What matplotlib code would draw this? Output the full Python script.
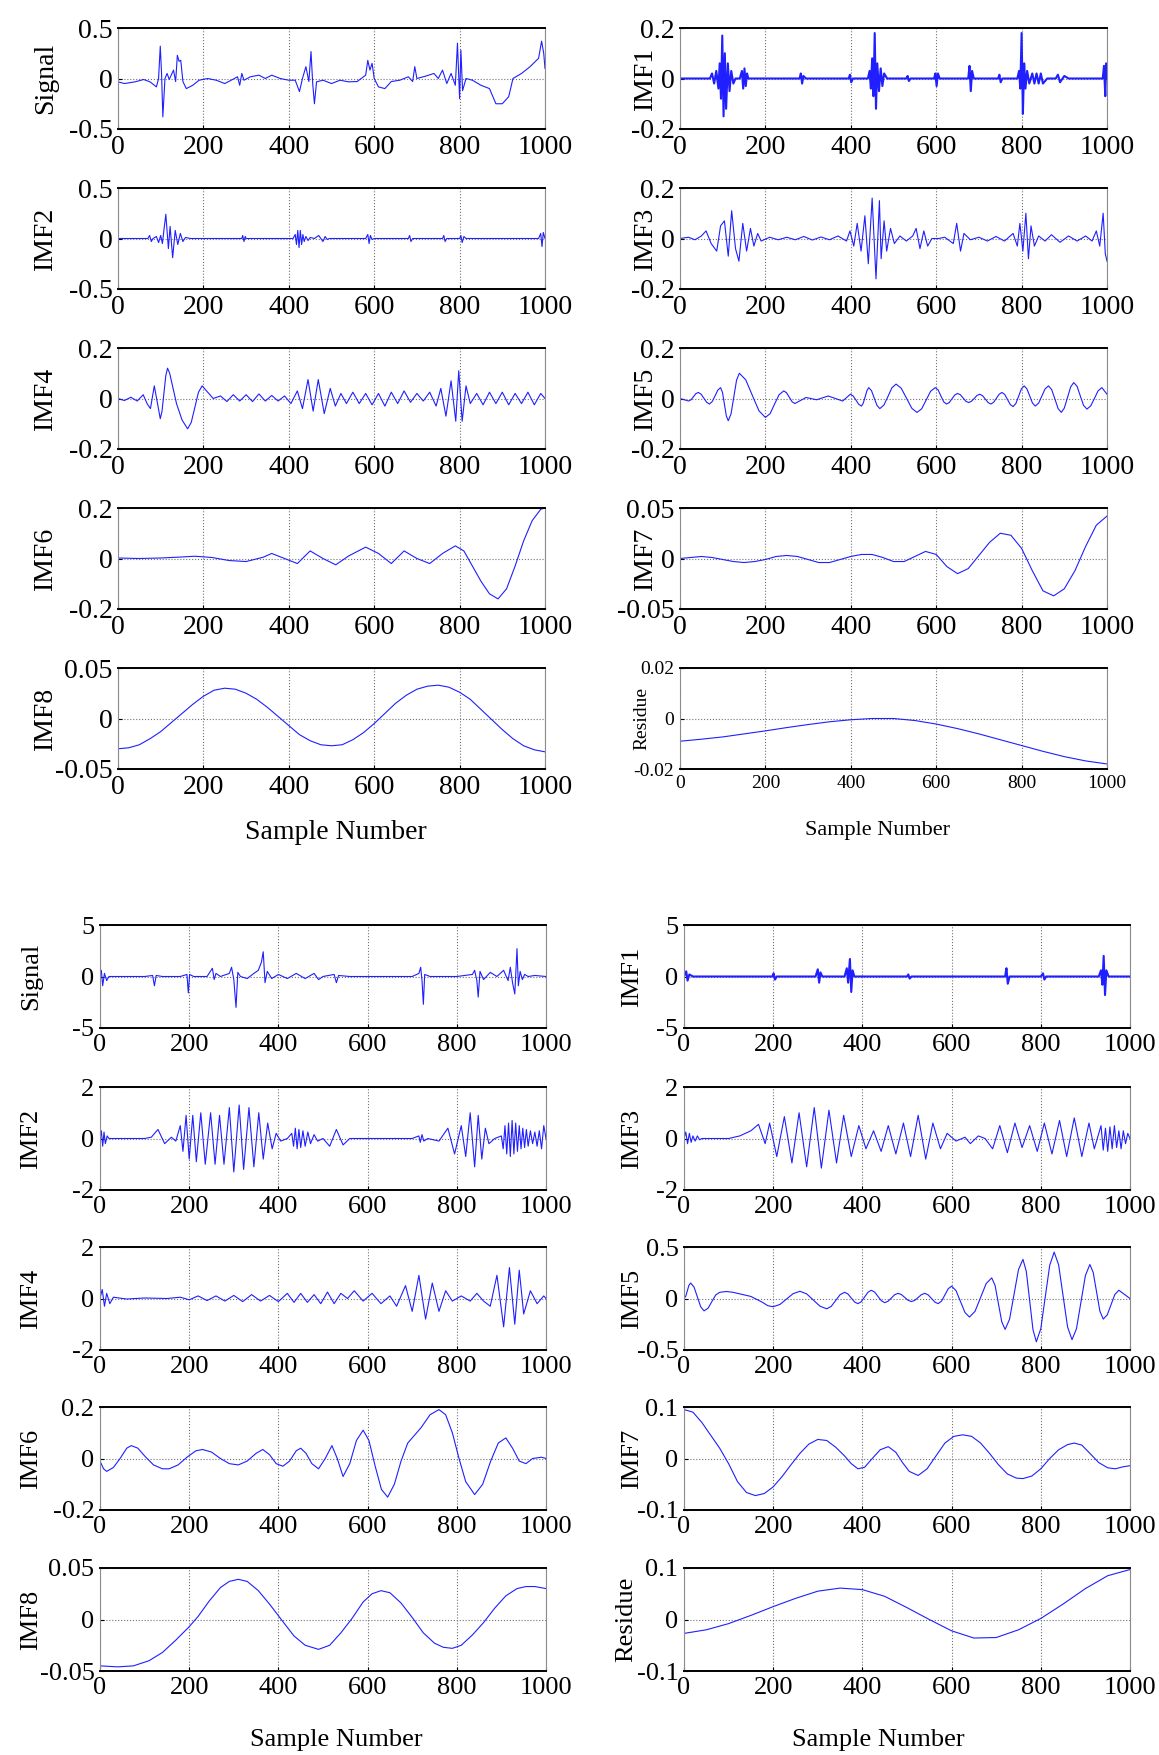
import matplotlib.pyplot as plt

plt.rcParams['font.family'] = ['Liberation Serif', 'DejaVu Serif']
plt.rcParams['axes.unicode_minus'] = False

# ---------------- upper record: (sample, value) ----------------
signal_a = [(0, -0.033), (15, -0.05), (40, -0.033), (60, -0.01), (75, -0.033), (90, -0.083), (95, 0.0),
            (99, 0.32), (102, 0.05), (105, -0.38), (110, 0.0), (115, 0.05), (120, -0.01), (130, 0.083),
            (135, -0.03), (139, 0.23), (143, 0.17), (147, 0.18), (152, -0.03), (160, -0.1), (175, -0.067),
            (190, -0.017), (210, 0.0), (230, -0.017), (250, -0.05), (265, -0.017), (280, 0.017), (285, -0.067),
            (290, 0.05), (295, -0.017), (310, 0.017), (330, 0.033), (345, 0.0), (360, 0.033), (380, 0.0),
            (400, -0.017), (415, -0.017), (425, -0.13), (432, 0.0), (440, 0.117), (447, -0.03), (452, 0.267),
            (456, -0.05), (460, -0.25), (465, -0.033), (480, -0.017), (500, -0.05), (520, -0.017), (540, -0.033),
            (560, -0.03), (580, 0.033), (585, 0.18), (590, 0.083), (595, 0.15), (600, 0.0), (610, -0.083),
            (625, -0.1), (640, -0.03), (660, -0.017), (680, 0.017), (690, -0.03), (695, 0.117), (700, 0.0),
            (720, 0.023), (740, 0.05), (750, 0.0), (760, 0.083), (770, -0.05), (780, 0.05), (790, -0.067),
            (795, 0.35), (800, -0.2), (803, 0.28), (807, -0.12), (815, 0.0), (830, -0.017), (850, -0.067),
            (870, -0.1), (885, -0.25), (900, -0.25), (915, -0.18), (925, 0.0), (945, 0.05), (965, 0.117),
            (985, 0.2), (992, 0.37), (997, 0.25), (1000, 0.1)]

imf1_a = [(0, 0), (70, 0), (75, 0.02), (80, -0.02), (85, 0.03), (90, -0.04), (93, 0.06), (96, -0.08),
          (99, 0.17), (102, -0.15), (105, 0.1), (108, -0.12), (112, 0.06), (116, -0.05), (120, 0.03),
          (125, -0.02), (130, 0.0), (140, 0), (145, 0.03), (148, -0.04), (151, 0.04), (154, -0.03),
          (157, 0.02), (160, 0.0), (280, 0), (283, 0.02), (286, -0.02), (289, 0.01), (295, 0), (395, 0),
          (398, 0.015), (401, -0.015), (405, 0), (440, 0), (444, 0.03), (447, -0.04), (450, 0.08),
          (453, -0.07), (456, 0.18), (459, -0.12), (462, 0.06), (466, -0.05), (470, 0.04), (474, -0.03),
          (478, 0.02), (485, 0), (530, 0), (533, 0.01), (536, -0.01), (540, 0), (595, 0), (598, 0.02),
          (601, -0.03), (604, 0.02), (608, 0), (675, 0), (678, 0.05), (681, -0.05), (684, 0.03), (688, 0),
          (745, 0), (748, 0.015), (751, -0.015), (755, 0), (790, 0), (794, 0.03), (797, -0.04), (800, 0.18),
          (803, -0.14), (806, 0.06), (809, -0.04), (813, 0.03), (818, -0.02), (825, 0.02), (830, -0.02),
          (835, 0.02), (840, -0.02), (845, 0.02), (850, -0.02), (860, 0), (880, 0), (885, 0.015),
          (890, -0.015), (900, 0.01), (910, 0), (990, 0), (993, 0.05), (996, -0.07), (998, 0.06), (1000, 0.0)]

imf2_a = [(0, 0), (70, 0), (74, 0.03), (78, -0.03), (82, 0), (90, 0.02), (95, -0.04), (100, 0.03),
          (104, -0.05), (108, 0.1), (112, 0.24), (118, -0.1), (122, 0.12), (128, -0.19), (134, 0.08),
          (140, -0.06), (146, 0.05), (152, -0.03), (158, 0.01), (170, 0), (290, 0), (292, 0.03),
          (295, -0.03), (298, 0.02), (300, 0), (410, 0), (415, 0.04), (418, -0.06), (421, 0.08),
          (424, -0.09), (427, 0.08), (430, -0.06), (433, 0.04), (436, -0.03), (440, 0.02), (445, -0.02),
          (450, 0.01), (460, 0.0), (470, 0.03), (480, -0.03), (485, 0.02), (490, -0.01), (495, 0.0),
          (580, 0), (585, 0.04), (588, -0.05), (591, 0.03), (595, -0.01), (600, 0), (680, 0), (683, 0.03),
          (686, -0.03), (690, 0), (760, 0), (763, 0.03), (766, -0.03), (770, 0), (800, 0), (803, 0.03),
          (806, -0.04), (810, 0.02), (815, 0), (985, 0), (990, 0.05), (993, -0.08), (996, 0.06), (1000, 0.0)]

imf3_a = [(0, 0.0), (20, 0.005), (35, -0.005), (50, 0.01), (61, 0.03), (73, -0.02), (86, -0.05), (95, 0.05),
          (104, 0.07), (113, -0.07), (121, 0.11), (130, -0.04), (138, -0.09), (147, 0.06), (156, -0.05),
          (165, 0.04), (173, -0.03), (182, 0.02), (190, -0.01), (210, 0.005), (230, -0.005), (250, 0.005),
          (270, -0.005), (290, 0.008), (310, -0.006), (330, 0.006), (350, -0.005), (370, 0.01), (390, -0.01),
          (398, 0.03), (407, -0.03), (415, 0.06), (424, -0.05), (433, 0.09), (441, -0.1), (450, 0.16),
          (459, -0.16), (467, 0.15), (471, -0.08), (478, 0.07), (484, -0.05), (493, 0.04), (502, -0.02),
          (515, 0.01), (530, -0.01), (545, 0.01), (553, 0.04), (562, -0.04), (571, 0.03), (580, -0.03),
          (590, 0.0), (606, 0.0), (620, 0.005), (640, -0.02), (648, 0.06), (657, -0.05), (665, 0.02),
          (680, -0.005), (700, 0.005), (720, -0.01), (740, 0.008), (760, -0.01), (780, 0.02), (790, -0.03),
          (796, 0.06), (803, -0.05), (810, 0.1), (816, -0.08), (822, 0.05), (830, -0.03), (840, 0.01),
          (855, -0.01), (870, 0.015), (890, -0.015), (910, 0.01), (930, -0.01), (950, 0.01), (965, -0.01),
          (975, 0.03), (983, -0.03), (991, 0.1), (996, -0.06), (1000, -0.09)]

imf4_a = [(0, 0.0), (15, -0.008), (30, 0.005), (45, -0.01), (59, 0.015), (68, -0.02), (76, -0.04), (85, 0.05),
          (99, -0.08), (103, -0.051), (107.5, 0.02), (112, 0.091), (116, 0.12), (121, 0.1), (137, -0.02),
          (150, -0.085), (163, -0.12), (171.5, -0.095), (180, -0.035), (188.5, 0.025), (197, 0.05),
          (223, 0.0), (240, 0.01),
          (255, -0.012), (270, 0.015), (285, -0.01), (300, 0.015), (315, -0.012), (330, 0.018), (345, -0.01),
          (360, 0.012), (375, -0.01), (390, 0.01), (405, -0.02), (420, 0.03), (432, -0.04), (445, 0.075),
          (457, -0.05), (469, 0.075), (483, -0.06), (497, 0.04), (509, -0.03), (522, 0.02), (535, -0.02),
          (550, 0.025), (565, -0.02), (580, 0.02), (595, -0.025), (610, 0.02), (625, -0.03), (640, 0.025),
          (655, -0.02), (670, 0.03), (685, -0.015), (700, 0.02), (715, -0.01), (730, 0.025), (745, -0.03),
          (756, 0.04), (768, -0.07), (780, 0.07), (791, -0.09), (798, 0.11), (806, -0.09), (815, 0.05),
          (825, -0.02), (840, 0.02), (855, -0.025), (870, 0.025), (885, -0.02), (900, 0.025), (915, -0.025),
          (930, 0.02), (945, -0.02), (960, 0.025), (975, -0.025), (990, 0.02), (1000, 0.0)]

imf5_a = [(0, 0.0), (20, -0.01), (26, -0.005), (31.5, 0.007), (37, 0.019), (43, 0.024), (49.5, 0.017),
          (56, 0.001), (62.5, -0.015), (69, -0.022), (75.5, -0.012), (82, 0.01), (88.5, 0.033), (95, 0.043),
          (99.5, 0.024), (104, -0.022), (108.5, -0.069), (113, -0.088), (119.5, -0.061), (126, 0.006),
          (132.5, 0.073), (139, 0.1), (154, 0.074), (169.5, 0.012), (185, -0.049), (200, -0.075),
          (211, -0.06), (221.5, -0.022), (232, 0.015), (243, 0.03), (249.5, 0.023), (256, 0.005),
          (262.5, -0.013), (269, -0.02), (295, 0.004), (320, -0.005), (347, 0.01), (381, -0.01), (399, 0.017),
          (405.5, 0.01), (412, -0.006), (418.5, -0.023), (425, -0.03), (429, -0.019), (433.5, 0.006),
          (438, 0.032), (442, 0.043), (448.5, 0.031), (455, 0.001), (461.5, -0.028), (468, -0.04),
          (477.5, -0.026), (487, 0.008), (496.5, 0.043), (506, 0.057), (518, 0.041), (530.5, 0.001),
          (543, -0.039), (555, -0.055), (566, -0.041), (576.5, -0.006), (587, 0.029), (598, 0.043),
          (604.5, 0.034), (611, 0.01), (617.5, -0.013), (624, -0.022), (630.5, -0.016), (637, -0.001),
          (643.5, 0.014), (650, 0.02), (656.5, 0.015), (663, 0.002), (669.5, -0.011), (676, -0.016),
          (682.5, -0.011), (689, 0.0), (695.5, 0.012), (702, 0.017), (708.5, 0.011), (715, -0.002),
          (721.5, -0.016), (728, -0.022), (734.5, -0.015), (741, 0.001), (747.5, 0.017), (754, 0.024),
          (760.5, 0.016), (767, -0.004), (773.5, -0.024), (780, -0.032), (786.5, -0.02), (793, 0.009),
          (799.5, 0.038), (806, 0.05), (812.5, 0.038), (819, 0.01), (825.5, -0.018), (832, -0.03),
          (840, -0.018), (847.5, 0.01), (855, 0.038), (863, 0.05), (870.5, 0.035), (878, -0.002),
          (885.5, -0.04), (893, -0.055), (900, -0.038), (907.5, 0.004), (915, 0.046), (922, 0.063),
          (930, 0.048), (937.5, 0.01), (945, -0.027), (953, -0.042), (962, -0.029), (970.5, 0.0),
          (979, 0.03), (988, 0.043), (1000, 0.017)]

imf6_a = [(0, 0.002), (50, 0.0), (100, 0.002), (150, 0.006), (180, 0.009), (220, 0.004), (260, -0.008),
          (300, -0.012), (340, 0.005), (360, 0.02), (390, 0.0), (420, -0.02), (450, 0.03), (480, 0.0),
          (510, -0.025), (540, 0.01), (580, 0.045), (610, 0.02), (640, -0.02), (670, 0.03), (700, 0.0),
          (730, -0.02), (760, 0.02), (790, 0.05), (810, 0.03), (830, -0.03), (850, -0.09), (870, -0.14),
          (890, -0.16), (910, -0.12), (930, -0.03), (950, 0.07), (970, 0.15), (990, 0.195), (1000, 0.2)]

imf7_a = [(0, 0.0), (25, 0.001), (50, 0.002), (75, 0.001), (100, -0.001), (125, -0.003), (150, -0.004),
          (175, -0.003), (200, -0.001), (225, 0.002), (250, 0.003), (275, 0.002), (300, -0.001),
          (325, -0.004), (350, -0.004), (375, -0.001), (400, 0.002), (425, 0.004), (450, 0.004), (475, 0.001),
          (500, -0.003), (525, -0.003), (550, 0.002), (575, 0.007), (600, 0.004), (625, -0.008),
          (650, -0.015), (675, -0.01), (700, 0.003), (725, 0.016), (750, 0.025), (775, 0.023), (800, 0.01),
          (825, -0.012), (850, -0.032), (875, -0.037), (900, -0.03), (925, -0.012), (950, 0.012),
          (975, 0.033), (1000, 0.042)]

imf8_a = [(0, -0.03), (25, -0.029), (50, -0.026), (75, -0.02), (100, -0.013), (125, -0.004), (150, 0.005),
          (175, 0.014), (200, 0.022), (225, 0.028), (250, 0.03), (275, 0.029), (300, 0.025), (325, 0.019),
          (350, 0.011), (375, 0.002), (400, -0.007), (425, -0.016), (450, -0.022), (475, -0.026),
          (500, -0.027), (525, -0.026), (550, -0.021), (575, -0.014), (600, -0.005), (625, 0.005),
          (650, 0.015), (675, 0.023), (700, 0.029), (725, 0.032), (750, 0.033), (775, 0.031), (800, 0.026),
          (825, 0.019), (850, 0.009), (875, -0.001), (900, -0.011), (925, -0.02), (950, -0.027),
          (975, -0.031), (1000, -0.033)]

residue_a = [(0, -0.009), (50, -0.0082), (100, -0.0073), (150, -0.0061), (200, -0.0049), (250, -0.0036),
             (300, -0.0024), (350, -0.0013), (400, -0.0005), (450, 0.0), (500, 0.0), (550, -0.0008),
             (600, -0.0022), (650, -0.004), (700, -0.0061), (750, -0.0084), (800, -0.0107), (850, -0.013),
             (900, -0.0151), (950, -0.0168), (1000, -0.018)]

# ---------------- lower record ----------------
signal_b = [(0, 0), (3, 0.6), (6, -0.9), (10, 0.3), (15, -0.4), (20, 0), (40, 0), (100, 0), (118, 0.1),
            (122, -0.9), (126, 0.1), (140, 0), (180, 0), (195, 0.2), (198, -1.6), (201, 0.2), (210, 0),
            (240, 0), (252, 0.8), (256, -0.3), (260, 0.3), (270, 0), (290, 0.3), (295, 0.9), (300, -0.3),
            (305, -3.0), (309, 0.4), (315, 0.0), (330, -0.2), (345, 0.3), (355, 0.6), (362, 1.4), (366, 2.4),
            (370, -0.6), (375, 0.5), (385, -0.2), (400, 0.2), (420, -0.2), (440, 0.3), (460, -0.2),
            (480, 0.3), (490, -0.3), (500, 0.0), (525, 0.2), (530, -0.6), (535, 0.1), (560, 0), (600, 0),
            (700, 0), (715, 0.3), (719, 0.9), (722, -0.4), (725, -2.7), (728, 0.2), (740, 0), (800, 0),
            (835, 0.2), (840, 0.6), (845, -0.4), (848, -2.0), (852, 0.5), (860, -0.3), (875, 0.4), (890, 0.0),
            (905, 0.6), (915, -0.4), (920, 0.9), (925, -0.6), (930, -1.7), (935, 2.7), (938, -0.9),
            (942, 0.5), (947, -0.3), (952, 0.2), (960, 0.0), (975, 0.1), (1000, 0.0)]

imf1_b = [(0, 0), (5, 0.5), (8, -0.4), (12, 0.2), (20, 0), (198, 0), (201, 0.3), (204, -0.3), (208, 0),
          (295, 0), (300, 0.7), (303, -0.6), (306, 0.4), (310, 0), (360, 0), (365, 0.8), (368, -0.6),
          (372, 1.7), (375, -1.5), (378, 0.6), (382, 0), (500, 0), (503, 0.2), (506, -0.2), (510, 0),
          (720, 0), (723, 0.8), (726, -0.7), (730, 0), (800, 0), (805, 0.3), (808, -0.3), (812, 0),
          (930, 0), (935, 0.6), (938, -0.8), (941, 2.0), (944, -1.8), (947, 0.6), (952, 0), (1000, 0)]

imf2_b = [(0, 0.0), (3, 0.3), (6, -0.3), (9, 0.25), (12, -0.2), (16, 0.1), (20, 0.0), (100, 0.0),
          (115, 0.05), (130, 0.35), (145, -0.2), (160, 0.05), (170, -0.1), (180, 0.5), (186, -0.5),
          (193, 0.9), (200, -0.8), (208, 0.9), (216, -0.9), (226, 1.0), (236, -1.0), (248, 1.0), (258, -1.0),
          (268, 0.9), (278, -1.0), (290, 1.2), (300, -1.3), (312, 1.3), (322, -1.2), (334, 1.2), (345, -1.1),
          (356, 1.0), (366, -0.8), (376, 0.6), (386, -0.4), (395, 0.2), (405, -0.1), (420, 0.0), (430, 0.2),
          (434, -0.3), (438, 0.4), (442, -0.4), (446, 0.35), (450, -0.35), (455, 0.3), (460, -0.3),
          (466, 0.25), (472, -0.2), (480, 0.15), (488, -0.1), (500, 0.0), (515, -0.3), (530, 0.35),
          (545, -0.25), (560, 0.0), (700, 0.0), (715, 0.1), (718, -0.15), (722, 0.15), (726, -0.1),
          (735, 0.0), (760, -0.1), (780, 0.4), (795, -0.6), (810, 0.5), (820, -0.7), (830, 1.0),
          (840, -1.1), (848, 0.9), (856, -0.8), (864, 0.4), (872, -0.2), (885, 0.0), (900, 0.1),
          (904, -0.4), (908, 0.5), (912, -0.6), (916, 0.6), (920, -0.7), (924, 0.7), (928, -0.6),
          (932, 0.6), (936, -0.5), (940, 0.5), (944, -0.4), (948, 0.4), (952, -0.35), (956, 0.35),
          (960, -0.3), (965, 0.3), (970, -0.2), (975, 0.25), (980, -0.3), (985, 0.3), (990, -0.4),
          (995, 0.5), (1000, 0.0)]

imf3_b = [(0, 0.0), (4, 0.25), (8, -0.2), (12, 0.2), (16, -0.15), (20, 0.1), (25, -0.1), (30, 0.1),
          (35, -0.05), (40, 0.0), (60, 0.0), (100, 0.0), (125, 0.1), (150, 0.3), (167, 0.55), (182, -0.2),
          (192, 0.6), (208, -0.7), (225, 0.85), (242, -0.95), (258, 1.0), (275, -1.1), (292, 1.2),
          (308, -1.15), (325, 1.1), (342, -0.95), (358, 0.9), (375, -0.7), (392, 0.5), (408, -0.4),
          (425, 0.3), (442, -0.5), (458, 0.5), (475, -0.6), (492, 0.6), (508, -0.7), (525, 0.9),
          (542, -0.8), (558, 0.6), (575, -0.4), (590, 0.2), (610, -0.1), (630, 0.05), (642, -0.2),
          (660, 0.1), (675, 0.0), (692, -0.4), (708, 0.5), (725, -0.55), (742, 0.6), (758, -0.35),
          (775, 0.5), (792, -0.5), (808, 0.6), (825, -0.6), (842, 0.7), (858, -0.7), (875, 0.8),
          (892, -0.7), (908, 0.6), (920, -0.4), (935, 0.5), (940, -0.45), (945, 0.4), (950, -0.5),
          (955, 0.45), (960, -0.4), (965, 0.5), (970, -0.35), (975, 0.3), (980, -0.4), (985, 0.3),
          (990, -0.2), (995, 0.2), (1000, 0.0)]

imf4_b = [(0, 0.0), (5, 0.35), (10, -0.3), (15, 0.2), (22, -0.2), (30, 0.05), (60, -0.02), (100, 0.02),
          (150, 0.0), (180, 0.05), (200, -0.05), (220, 0.1), (240, -0.08), (260, 0.1), (280, -0.1),
          (300, 0.12), (320, -0.12), (340, 0.15), (360, -0.1), (380, 0.12), (400, -0.12), (420, 0.2),
          (435, -0.15), (450, 0.2), (465, -0.15), (480, 0.15), (495, -0.2), (510, 0.25), (525, -0.2),
          (540, 0.2), (555, 0.0), (570, 0.3), (590, -0.1), (610, 0.2), (630, -0.2), (650, 0.1), (665, -0.3),
          (685, 0.5), (700, -0.5), (715, 0.9), (730, -0.8), (745, 0.6), (760, -0.5), (775, 0.3), (790, -0.1),
          (810, 0.1), (830, -0.1), (845, 0.2), (860, -0.1), (875, -0.3), (890, 0.9), (905, -1.1),
          (918, 1.2), (930, -1.0), (940, 1.1), (950, -0.6), (965, 0.3), (980, -0.2), (995, 0.1), (1000, 0.0)]

imf5_b = [(0, 0.0), (4, 0.022), (7.5, 0.075), (11, 0.128), (15, 0.15), (22.5, 0.111), (30, 0.015),
          (37.5, -0.081), (45, -0.12), (54, -0.094), (62.5, -0.03), (71, 0.034), (80, 0.06), (95, 0.068),
          (110, 0.06), (150, 0.02), (175, -0.035), (188, -0.07), (200, -0.08), (215, -0.058), (230, -0.005),
          (245, 0.048), (260, 0.07), (275, 0.045), (290, -0.015), (305, -0.075), (320, -0.1), (330, -0.077),
          (340, -0.02), (350, 0.037), (360, 0.06), (367.5, 0.044), (375, 0.005), (382.5, -0.034),
          (390, -0.05), (397.5, -0.031), (405, 0.015), (412.5, 0.061), (420, 0.08), (427.5, 0.062),
          (435, 0.02), (442.5, -0.022), (450, -0.04), (457.5, -0.027), (465, 0.005), (472.5, 0.037),
          (480, 0.05), (487.5, 0.038), (495, 0.01), (502.5, -0.018), (510, -0.03), (517.5, -0.018),
          (525, 0.01), (532.5, 0.038), (540, 0.05), (547.5, 0.035), (555, 0.0), (562.5, -0.035),
          (570, -0.05), (577.5, -0.025), (585, 0.035), (592.5, 0.095), (600, 0.12), (610, 0.076),
          (620, -0.03), (630, -0.136), (640, -0.18), (652.5, -0.125), (665, 0.01), (677.5, 0.145),
          (690, 0.2), (697.5, 0.127), (705, -0.05), (712.5, -0.227), (720, -0.3), (730, -0.201), (740, 0.04),
          (750, 0.281), (760, 0.38), (767.5, 0.263), (775, -0.02), (782.5, -0.303), (790, -0.42),
          (800, -0.293), (810, 0.015), (820, 0.323), (830, 0.45), (840, 0.326), (850, 0.025), (860, -0.276),
          (870, -0.4), (880, -0.293), (890, -0.035), (900, 0.223), (910, 0.33), (917.5, 0.253),
          (925, 0.065), (932.5, -0.123), (940, -0.2), (949, -0.159), (957.5, -0.06), (966, 0.039),
          (975, 0.08), (987.5, 0.04), (1000, 0.0)]

imf6_b = [(0, -0.01), (8, -0.04), (15, -0.05), (30, -0.035), (45, 0.0), (60, 0.04), (70, 0.05), (85, 0.04),
          (100, 0.01), (120, -0.025), (140, -0.04), (155, -0.04), (175, -0.025), (195, 0.005), (215, 0.03),
          (230, 0.035), (250, 0.025), (270, 0.0), (290, -0.02), (310, -0.025), (330, -0.01), (350, 0.02),
          (365, 0.035), (380, 0.015), (395, -0.02), (410, -0.03), (425, -0.01), (440, 0.03), (450, 0.04),
          (462, 0.02), (475, -0.02), (490, -0.04), (505, 0.0), (520, 0.05), (532, 0.0), (545, -0.07),
          (560, -0.02), (575, 0.07), (590, 0.11), (603, 0.07), (617, -0.03), (631, -0.12), (645, -0.15),
          (660, -0.1), (675, -0.01), (690, 0.06), (705, 0.09), (720, 0.12), (740, 0.17), (760, 0.19),
          (775, 0.17), (790, 0.1), (805, 0.0), (820, -0.09), (840, -0.14), (858, -0.1), (876, -0.01),
          (893, 0.06), (910, 0.08), (925, 0.04), (940, -0.01), (955, -0.02), (970, 0.0), (990, 0.005),
          (1000, 0.0)]

imf7_b = [(0, 0.095), (20, 0.09), (40, 0.07), (60, 0.045), (80, 0.02), (100, -0.01), (120, -0.045),
          (140, -0.066), (160, -0.072), (180, -0.068), (200, -0.055), (220, -0.035), (240, -0.012),
          (260, 0.01), (280, 0.028), (300, 0.037), (320, 0.035), (340, 0.022), (360, 0.005), (375, -0.01),
          (390, -0.02), (405, -0.017), (420, -0.002), (440, 0.017), (458, 0.023), (475, 0.012),
          (490, -0.008), (505, -0.025), (525, -0.033), (545, -0.02), (565, 0.005), (585, 0.03),
          (605, 0.043), (625, 0.046), (645, 0.043), (665, 0.03), (685, 0.01), (705, -0.012), (725, -0.03),
          (745, -0.038), (760, -0.039), (780, -0.034), (800, -0.02), (820, 0.0), (840, 0.017), (860, 0.027),
          (875, 0.03), (892, 0.026), (910, 0.01), (930, -0.008), (950, -0.018), (967, -0.02), (985, -0.016),
          (1000, -0.014)]

imf8_b = [(0, -0.045), (40, -0.046), (75, -0.045), (110, -0.04), (140, -0.032), (170, -0.02), (200, -0.007),
          (220, 0.003), (245, 0.018), (270, 0.031), (290, 0.037), (310, 0.039), (330, 0.037), (355, 0.028),
          (380, 0.015), (410, -0.002), (435, -0.016), (460, -0.025), (490, -0.029), (515, -0.025),
          (540, -0.013), (565, 0.001), (590, 0.017), (610, 0.025), (630, 0.028), (650, 0.026), (675, 0.016),
          (700, 0.002), (725, -0.013), (750, -0.023), (770, -0.027), (790, -0.028), (810, -0.025),
          (835, -0.015), (860, -0.003), (885, 0.011), (910, 0.023), (935, 0.03), (955, 0.032), (975, 0.032),
          (1000, 0.03)]

residue_b = [(0, -0.027), (50, -0.02), (100, -0.008), (150, 0.008), (200, 0.025), (250, 0.041), (300, 0.055),
             (350, 0.061), (400, 0.058), (450, 0.045), (500, 0.023), (550, 0.0), (600, -0.022), (650, -0.036),
             (700, -0.035), (750, -0.02), (800, 0.002), (850, 0.03), (900, 0.06), (950, 0.085), (1000, 0.097)]

W, H = 1159, 1755
fig = plt.figure(figsize=(W / 100, H / 100), dpi=100)


def panel(left, top, width, height, data, name, lim, ticks, fs, label_x, dense=False):
    ax = fig.add_axes([left / W, 1 - (top + height) / H, width / W, height / H])
    xs = [p[0] for p in data]
    ys = [p[1] for p in data]
    ax.plot(xs, ys, color='#1f1fff', lw=1.5 if dense else 0.8)
    ax.set_xlim(0, 1000)
    ax.set_ylim(-lim, lim)
    ax.set_xticks([0, 200, 400, 600, 800, 1000])
    ax.set_yticks([-lim, 0, lim])
    ax.set_yticklabels(['-' + ticks, '0', ticks])
    ax.tick_params(direction='in', length=3, labelsize=fs, pad=4)
    ax.grid(True, linestyle=':', color='0.45', lw=0.8)
    for side in ['left', 'right']:
        ax.spines[side].set_color('0.55')
        ax.spines[side].set_linewidth(0.8)
    for side in ['top', 'bottom']:
        ax.spines[side].set_linewidth(1.4)
    ax.text(label_x, 0.5, name, rotation=90, ha='center', va='center',
            transform=ax.transAxes, fontsize=fs)
    return ax


# upper record
rows_a = [28, 188, 348, 508, 668]
ha = 101
panel(118, rows_a[0], 427, ha, signal_a, 'Signal', 0.5, '0.5', 20, -0.17)
panel(680, rows_a[0], 427, ha, imf1_a, 'IMF1', 0.2, '0.2', 20, -0.082, dense=True)
panel(118, rows_a[1], 427, ha, imf2_a, 'IMF2', 0.5, '0.5', 20, -0.17)
panel(680, rows_a[1], 427, ha, imf3_a, 'IMF3', 0.2, '0.2', 20, -0.082)
panel(118, rows_a[2], 427, ha, imf4_a, 'IMF4', 0.2, '0.2', 20, -0.17)
panel(680, rows_a[2], 427, ha, imf5_a, 'IMF5', 0.2, '0.2', 20, -0.082)
panel(118, rows_a[3], 427, ha, imf6_a, 'IMF6', 0.2, '0.2', 20, -0.17)
panel(680, rows_a[3], 427, ha, imf7_a, 'IMF7', 0.05, '0.05', 20, -0.082)
panel(118, rows_a[4], 427, ha, imf8_a, 'IMF8', 0.05, '0.05', 20, -0.17)
panel(680, rows_a[4], 427, ha, residue_a, 'Residue', 0.02, '0.02', 14, -0.09)
fig.text(336 / W, 1 - 833 / H, 'Sample Number', ha='center', va='center', fontsize=20)
fig.text(878 / W, 1 - 831 / H, 'Sample Number', ha='center', va='center', fontsize=16)

# lower record
rows_b = [925, 1087, 1247, 1407, 1568]
hb = 103
panel(100, rows_b[0], 446, hb, signal_b, 'Signal', 5, '5', 19, -0.155)
panel(684, rows_b[0], 446, hb, imf1_b, 'IMF1', 5, '5', 19, -0.117, dense=True)
panel(100, rows_b[1], 446, hb, imf2_b, 'IMF2', 2, '2', 19, -0.155)
panel(684, rows_b[1], 446, hb, imf3_b, 'IMF3', 2, '2', 19, -0.117)
panel(100, rows_b[2], 446, hb, imf4_b, 'IMF4', 2, '2', 19, -0.155)
panel(684, rows_b[2], 446, hb, imf5_b, 'IMF5', 0.5, '0.5', 19, -0.117)
panel(100, rows_b[3], 446, hb, imf6_b, 'IMF6', 0.2, '0.2', 19, -0.155)
panel(684, rows_b[3], 446, hb, imf7_b, 'IMF7', 0.1, '0.1', 19, -0.117)
panel(100, rows_b[4], 446, hb, imf8_b, 'IMF8', 0.05, '0.05', 19, -0.155)
panel(684, rows_b[4], 446, hb, residue_b, 'Residue', 0.1, '0.1', 19, -0.13)
fig.text(336 / W, 1 - 1740 / H, 'Sample Number', ha='center', va='center', fontsize=19)
fig.text(878 / W, 1 - 1740 / H, 'Sample Number', ha='center', va='center', fontsize=19)

fig.savefig('out.png', dpi=100)
